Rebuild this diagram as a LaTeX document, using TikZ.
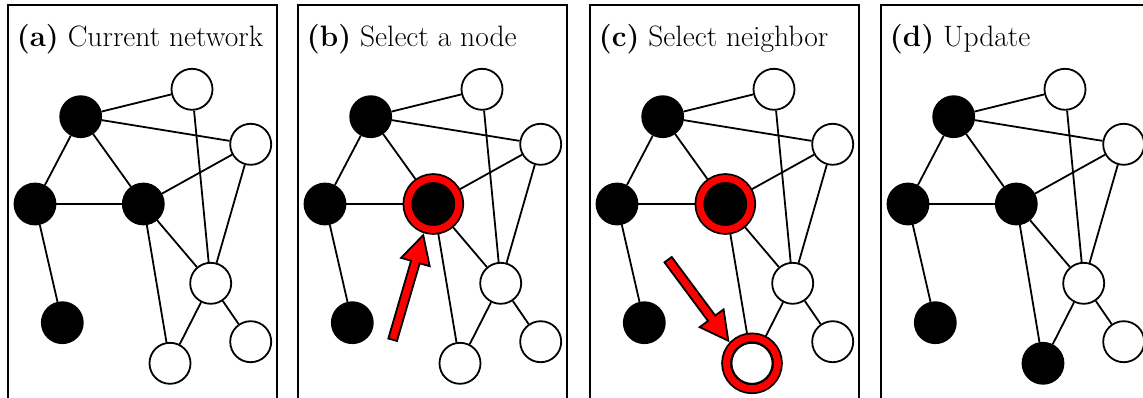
\documentclass[tikz,border=0pt]{standalone}
\usetikzlibrary{shapes.arrows}

\begin{document}
\begin{tikzpicture}[
        x=1pt, y=-1pt,
        line width=1.8pt,
        frame/.style={draw=black},
        title/.style={anchor=base west, inner sep=0, font=\fontsize{29.5}{34}\selectfont},
        vertex/.style={draw, circle, inner sep=0, minimum size=41},
        blk/.style={vertex, fill=black},
        wht/.style={vertex, fill=white},
        edge/.style={draw=black},
        ring/.style={draw=black, circle, inner sep=0, minimum size=51, outer sep=5.3pt, double=red, double distance=7pt},
        bigarrow/.style={single arrow, draw=black, fill=red, inner sep=3.6pt, single arrow head extend=10.4pt, single arrow tip angle=56}
        ]
    \useasboundingbox (0,0) rectangle (1143,398);
    \clip (0,0) rectangle (1143,398);
    \foreach \p/\dx/\title/\botfill in {a/0/Current network/white, b/290/Select a node/white, c/582/Select neighbor/white, d/873/Update/black} {
        \begin{scope}[shift={(\dx,0)}]
            \draw[frame] (8,5) rectangle (277,430);
            \node[title] (\p-title) at (16,47) {\textbf{(\p)} \title};
            \node[blk] (\p-top) at (80.7,116.7) {};
            \node[blk] (\p-left) at (35,204) {};
            \node[blk] (\p-mid) at (143.3,204) {};
            \node[blk] (\p-low) at (62.3,322.7) {};
            \node[wht] (\p-wtop) at (192,89.3) {};
            \node[wht] (\p-wright) at (250.7,144.3) {};
            \node[wht] (\p-hub) at (210.7,283.3) {};
            \node[vertex, fill=\botfill] (\p-wbot) at (170,363.3) {};
            \node[wht] (\p-corner) at (250.7,341.7) {};
            \draw[edge] (\p-top) -- (\p-wtop);
            \draw[edge] (\p-top) -- (\p-wright);
            \draw[edge] (\p-top) -- (\p-left);
            \draw[edge] (\p-top) -- (\p-mid);
            \draw[edge] (\p-left) -- (\p-mid);
            \draw[edge] (\p-left) -- (\p-low);
            \draw[edge] (\p-mid) -- (\p-wright);
            \draw[edge] (\p-mid) -- (\p-hub);
            \draw[edge] (\p-mid) -- (\p-wbot);
            \draw[edge] (\p-wtop) -- (\p-hub);
            \draw[edge] (\p-wright) -- (\p-hub);
            \draw[edge] (\p-hub) -- (\p-wbot);
            \draw[edge] (\p-hub) -- (\p-corner);
        \end{scope}
    }
    % highlighted nodes
    \node[ring] (b-sel) at (b-mid) {};
    \node[bigarrow, minimum height=109, rotate=73.7, anchor=tip] (b-arrow) at (b-sel.252) {};
    \node[ring] (c-sel) at (c-mid) {};
    \node[ring] (c-pick) at (c-wbot) {};
    \node[bigarrow, minimum height=101, rotate=-53.4, anchor=tip] (c-arrow) at (c-pick.137) {};
\end{tikzpicture}
\end{document}
